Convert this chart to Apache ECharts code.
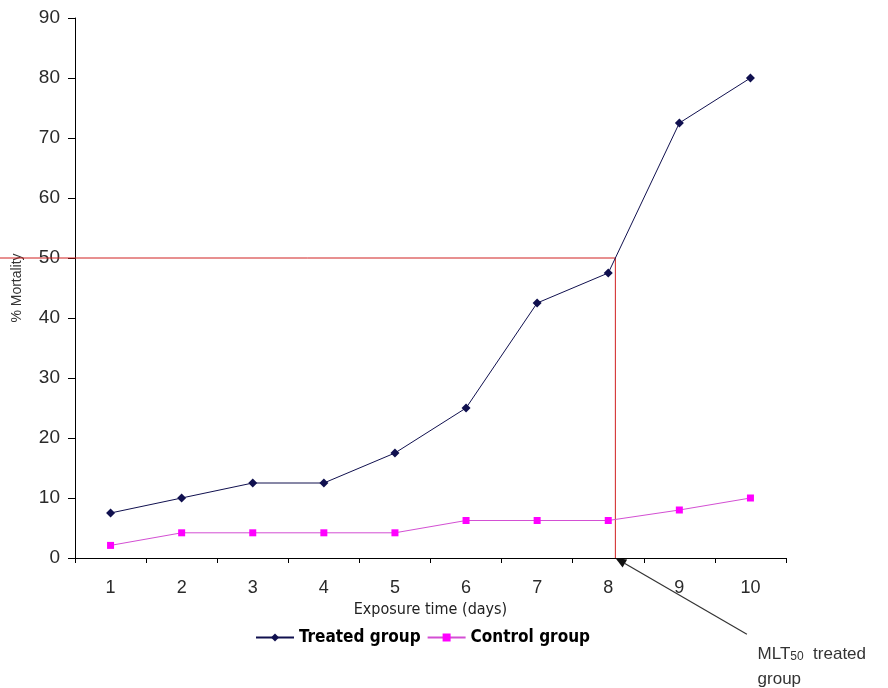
<!DOCTYPE html>
<html><head><meta charset="utf-8">
<script src="https://cdn.jsdelivr.net/npm/echarts@6/dist/echarts.min.js"></script>
<style>html,body{margin:0;padding:0;background:#fff}#c{width:888px;height:688px}</style>
</head><body><div id="c"></div>
<script>
const days = ['1','2','3','4','5','6','7','8','9','10'];
const treated = [7.5, 10, 12.5, 12.5, 17.5, 25, 42.5, 47.5, 72.5, 80];
const control = [2.1, 4.2, 4.2, 4.2, 4.2, 6.25, 6.25, 6.25, 8, 10];
const yTicks = [0, 90, 10];           // min, max, interval
const mlt50 = 8.1;                    // day at which treated mortality reaches 50%
const threshold = 50;
const arrowTail = [9.95, -12.7];      // annotation arrow tail (data coords)
const noteAt = [10.1, -13.9];         // annotation text anchor (data coords)

const narrow = "'Liberation Sans Narrow','DejaVu Sans Condensed',sans-serif";
const chart = echarts.init(document.getElementById('c'));
chart.setOption({
  animation: false,
  backgroundColor: '#fff',
  grid: { left: 75, right: 102, top: 18, bottom: 130 },
  legend: {
    top: 624, left: 250,
    itemWidth: 38, itemHeight: 10, itemGap: 6,
    textStyle: { fontFamily: narrow, fontWeight: 'bold', fontSize: 17, color: '#000' },
    data: ['Treated group', 'Control group']
  },
  xAxis: [{
    type: 'category', data: days, boundaryGap: true,
    name: 'Exposure time (days)', nameLocation: 'middle', nameGap: 35,
    nameTextStyle: { fontFamily: narrow, fontSize: 16, color: '#222' },
    axisLine: { lineStyle: { color: '#000', width: 1 } },
    axisTick: { show: true, length: 5, lineStyle: { color: '#000' } },
    axisLabel: { fontFamily: 'Liberation Sans', fontSize: 18, color: '#2a2a2a', margin: 21 },
    splitLine: { show: false }
  }, {
    type: 'value', min: 0.5, max: 10.5, show: false
  }],
  yAxis: {
    type: 'value', min: yTicks[0], max: yTicks[1], interval: yTicks[2],
    name: '% Mortality', nameLocation: 'middle', nameGap: 51, nameRotate: 90,
    nameTextStyle: { fontFamily: 'Liberation Sans', fontSize: 14, color: '#333' },
    axisLine: { show: true, lineStyle: { color: '#000', width: 1 } },
    axisTick: { show: true, length: 7, lineStyle: { color: '#000' } },
    axisLabel: { fontFamily: 'Liberation Sans', fontSize: 19, color: '#2a2a2a', margin: 15 },
    splitLine: { show: false }
  },
  series: [{
    name: 'Treated group', type: 'line', data: treated,
    symbol: 'diamond', symbolSize: 9,
    itemStyle: { color: '#10104f' },
    lineStyle: { color: '#10104f', width: 1 }
  }, {
    name: 'Control group', type: 'line', data: control,
    symbol: 'rect', symbolSize: 7,
    itemStyle: { color: '#ff00ff' },
    lineStyle: { color: '#d34fd3', width: 1 }
  }]
});

function drawAnnotations() {
  const cross = chart.convertToPixel({ xAxisIndex: 1, yAxisIndex: 0 }, [mlt50, threshold]);
  const base = chart.convertToPixel({ xAxisIndex: 1, yAxisIndex: 0 }, [mlt50, 0]);
  const tail = chart.convertToPixel({ xAxisIndex: 1, yAxisIndex: 0 }, arrowTail);
  const note = chart.convertToPixel({ xAxisIndex: 1, yAxisIndex: 0 }, noteAt);
  const dx = base[0] - tail[0], dy = base[1] - tail[1];
  const len = Math.sqrt(dx * dx + dy * dy), ux = dx / len, uy = dy / len;
  const hl = 11, hw = 4.5;
  const bx = base[0] - ux * hl, by = base[1] - uy * hl;
  chart.setOption({
    graphic: [
      { type: 'polyline', z: 1, shape: { points: [[0, cross[1]], cross, base] },
        style: { stroke: '#d02020', lineWidth: 1, fill: null } },
      { type: 'line', z: 5, shape: { x1: tail[0], y1: tail[1], x2: bx, y2: by },
        style: { stroke: '#333', lineWidth: 1.2 } },
      { type: 'polygon', z: 5, shape: { points: [base, [bx - uy * hw, by + ux * hw], [bx + uy * hw, by - ux * hw]] },
        style: { fill: '#111' } },
      { type: 'text', z: 5, left: note[0], top: note[1],
        style: {
          text: '{a|MLT}{s|50}{a|  treated}\n{a|group}',
          rich: {
            a: { fontFamily: 'Liberation Sans', fontSize: 17, fill: '#333', lineHeight: 25, verticalAlign: 'bottom' },
            s: { fontFamily: 'Liberation Sans', fontSize: 12, fill: '#333', lineHeight: 25, padding: [9, 0, 0, 0], verticalAlign: 'bottom' }
          }
        } }
    ]
  });
}
drawAnnotations();
</script>
</body></html>
